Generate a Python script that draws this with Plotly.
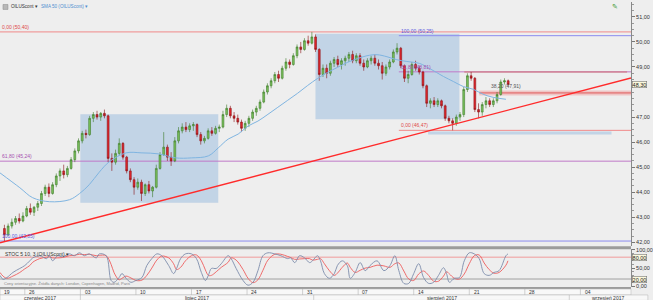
import numpy as np
import pandas as pd
import plotly.graph_objects as go

# ---------------- data ----------------
symbol = "OILUScont"
session_dates = pd.bdate_range("2017-06-22", "2017-08-24")
candles_per_day = [3] * 45 + [2]
origin = "2017-06-26"

opens = [42.55, 42.30, 42.65, 42.80, 42.95, 42.85, 43.05, 43.35, 43.20, 43.40, 43.55, 43.95,
         44.20, 43.95, 44.30, 44.65, 44.85, 44.70, 44.95, 45.30, 45.65, 46.05, 46.35, 46.30,
         46.95, 47.10, 47.00, 47.15, 47.05, 45.35, 45.20, 45.55, 45.95, 45.40, 44.85, 44.50,
         44.20, 44.40, 43.95, 44.30, 44.05, 44.20, 44.95, 45.50, 45.80, 45.40, 45.25, 46.05,
         46.45, 46.60, 46.50, 46.65, 46.70, 46.30, 46.05, 46.15, 46.45, 46.35, 46.55, 46.60,
         47.10, 47.35, 47.05, 46.95, 46.80, 46.55, 46.75, 46.95, 47.20, 47.35, 47.60, 48.00,
         48.25, 48.45, 48.70, 48.55, 48.95, 49.20, 49.10, 49.45, 49.80, 49.70, 50.05, 49.95,
         50.20, 49.70, 48.70, 48.95, 48.75, 49.15, 49.30, 49.10, 49.25, 49.35, 49.50, 49.25,
         49.45, 49.15, 49.00, 49.25, 49.35, 49.15, 49.05, 48.75, 49.00, 49.20, 49.60, 49.75,
         49.05, 48.55, 48.70, 49.10, 48.95, 48.80, 48.25, 47.55, 47.65, 47.50, 47.65, 47.45,
         46.95, 46.85, 46.75, 47.00, 47.10, 48.10, 48.65, 48.55, 47.30, 47.20, 47.50, 47.65,
         47.50, 47.65, 47.90, 48.40, 48.45]
highs = [42.70, 42.75, 42.95, 43.05, 43.15, 43.20, 43.45, 43.55, 43.45, 43.65, 44.05, 44.30,
         44.35, 44.40, 44.75, 44.95, 45.10, 45.05, 45.40, 45.75, 46.15, 46.45, 46.50, 47.05,
         47.20, 47.25, 47.20, 47.30, 47.10, 45.55, 45.70, 46.15, 46.00, 45.45, 44.95, 44.60,
         44.55, 44.50, 44.35, 44.45, 44.25, 45.10, 45.60, 46.40, 45.90, 45.60, 46.20, 46.60,
         46.75, 46.80, 46.75, 46.80, 46.75, 46.40, 46.25, 46.55, 46.60, 46.65, 46.70, 47.25,
         47.50, 47.45, 47.20, 47.10, 46.90, 46.85, 47.05, 47.30, 47.45, 47.70, 48.10, 48.35,
         48.55, 48.80, 48.85, 49.05, 49.35, 49.30, 49.55, 49.90, 50.00, 50.15, 50.25, 50.40,
         50.30, 49.75, 49.10, 49.10, 49.25, 49.40, 49.45, 49.35, 49.45, 49.60, 49.65, 49.55,
         49.55, 49.30, 49.35, 49.45, 49.50, 49.30, 49.20, 49.10, 49.30, 49.70, 49.95, 49.80,
         49.10, 48.85, 49.20, 49.25, 49.05, 48.85, 48.30, 47.75, 47.80, 47.75, 47.70, 47.50,
         47.05, 46.95, 47.10, 47.20, 48.20, 48.75, 48.80, 48.60, 47.55, 47.60, 47.80, 47.75,
         47.75, 48.00, 48.50, 48.55, 48.50]
lows = [42.05, 42.25, 42.55, 42.70, 42.75, 42.80, 43.00, 43.10, 43.05, 43.25, 43.45, 43.85,
        43.80, 43.90, 44.20, 44.45, 44.55, 44.60, 44.90, 45.20, 45.55, 45.95, 46.15, 46.25,
        46.80, 46.90, 46.85, 46.95, 45.20, 44.85, 45.10, 45.45, 45.30, 44.75, 44.40, 43.90,
        44.10, 43.65, 43.85, 43.95, 43.80, 44.15, 44.90, 45.45, 45.25, 45.05, 45.20, 45.95,
        46.35, 46.40, 46.40, 46.45, 46.20, 45.90, 45.95, 46.10, 46.25, 46.30, 46.40, 46.55,
        47.00, 46.95, 46.80, 46.70, 46.40, 46.45, 46.60, 46.85, 47.05, 47.25, 47.55, 47.90,
        48.15, 48.35, 48.40, 48.50, 48.85, 48.95, 49.05, 49.35, 49.55, 49.65, 49.85, 49.90,
        49.60, 48.45, 48.60, 48.55, 48.65, 49.00, 49.00, 48.90, 49.05, 49.20, 49.15, 49.15,
        49.05, 48.85, 48.95, 49.10, 49.05, 48.90, 48.50, 48.65, 48.90, 49.15, 49.50, 48.95,
        48.40, 48.35, 48.65, 48.85, 48.70, 48.15, 47.40, 47.35, 47.40, 47.40, 47.35, 46.85,
        46.75, 46.47, 46.65, 46.85, 47.00, 48.00, 48.45, 47.20, 46.95, 47.05, 47.35, 47.40,
        47.40, 47.55, 47.85, 48.30, 48.25]
closes = [42.30, 42.65, 42.80, 42.95, 42.85, 43.05, 43.35, 43.20, 43.40, 43.55, 43.95, 44.20,
          43.95, 44.30, 44.65, 44.85, 44.70, 44.95, 45.30, 45.65, 46.05, 46.35, 46.30, 46.95,
          47.10, 47.00, 47.15, 47.05, 45.35, 45.20, 45.55, 45.95, 45.40, 44.85, 44.50, 44.20,
          44.40, 43.95, 44.30, 44.05, 44.20, 44.95, 45.50, 45.80, 45.40, 45.25, 46.05, 46.45,
          46.60, 46.50, 46.65, 46.70, 46.30, 46.05, 46.15, 46.45, 46.35, 46.55, 46.60, 47.10,
          47.35, 47.05, 46.95, 46.80, 46.55, 46.75, 46.95, 47.20, 47.35, 47.60, 48.00, 48.25,
          48.45, 48.70, 48.55, 48.95, 49.20, 49.10, 49.45, 49.80, 49.70, 50.05, 49.95, 50.20,
          49.70, 48.70, 48.95, 48.75, 49.15, 49.30, 49.10, 49.25, 49.35, 49.50, 49.25, 49.45,
          49.15, 49.00, 49.25, 49.35, 49.15, 49.05, 48.75, 49.00, 49.20, 49.60, 49.75, 49.05,
          48.55, 48.70, 49.10, 48.95, 48.80, 48.25, 47.55, 47.65, 47.50, 47.65, 47.45, 46.95,
          46.85, 46.75, 47.00, 47.10, 48.10, 48.65, 48.55, 47.30, 47.20, 47.50, 47.65, 47.50,
          47.65, 47.90, 48.40, 48.45, 48.30]

# SMA 50 (time in trading days since 26 June)
sma_t = [-2.23, -0.45, 0.71, 2.23, 4.02, 4.91, 5.80, 6.70, 7.59, 9.11, 10.54, 12.05, 13.57, 15.00,
         16.52, 17.41, 18.30, 19.20, 20.09, 20.98, 21.88, 22.77, 23.66, 24.55, 25.45, 26.34, 27.23,
         28.13, 29.02, 29.91, 30.80, 31.70, 32.59, 33.48, 34.38, 35.54, 36.43, 37.68, 38.57, 39.46,
         40.36, 41.25, 42.14, 43.30]
sma_v = [44.77, 44.18, 43.78, 43.62, 43.70, 43.94, 44.30, 44.80, 45.21, 45.57, 45.57, 45.53, 45.37,
         45.37, 45.45, 45.77, 46.12, 46.32, 46.64, 46.84, 47.11, 47.39, 47.67, 47.95, 48.26, 48.54,
         48.78, 48.98, 49.18, 49.33, 49.45, 49.49, 49.41, 49.29, 49.22, 49.14, 48.94, 48.62, 48.42,
         48.22, 48.11, 47.91, 47.79, 47.71]

# Stochastic oscillator
stoch_t = [-2.23, -1.96, -1.61, -1.07, -0.45, 0, 0.45, 0.71, 1.34, 1.96,
           2.23, 2.5, 2.95, 3.39, 4.02, 4.46, 4.91, 5.36, 5.8, 6.43,
           6.7, 7.32, 7.77, 8.04, 8.48, 8.75, 9.11, 9.55, 10.0, 10.54,
           10.98, 11.43, 11.88, 12.32, 12.95, 13.39, 13.66, 14.02, 14.46, 15.0,
           15.45, 15.89, 16.25, 16.52, 16.79, 17.23, 17.68, 18.3, 18.57, 19.02,
           19.64, 20.09, 20.54, 20.98, 21.43, 21.88, 22.5, 23.04, 23.66, 23.93,
           24.29, 24.73, 25.18, 25.63, 25.89, 26.34, 26.61, 26.96, 27.41, 27.86,
           28.13, 28.57, 29.02, 29.29, 29.73, 30.18, 30.63, 31.07, 31.7, 32.32,
           32.86, 33.3, 33.66, 34.11, 34.55, 35.0, 35.45, 35.89, 36.34, 36.79,
           37.23, 37.68, 37.95, 38.21, 38.66, 39.11, 39.55, 40.0, 40.45, 40.89,
           41.34, 41.79, 42.23, 42.68, 43.3, 43.48]
stoch_k = [30, 19, 24, 38, 49, 57, 70, 78, 84, 76,
           84, 70, 84, 81, 89, 84, 92, 84, 89, 78,
           89, 84, 16, 11, 24, 35, 22, 11, 16, 24,
           57, 76, 89, 84, 57, 35, 49, 76, 89, 89,
           76, 38, 16, 30, 49, 49, 62, 84, 76, 49,
           16, 3, 11, 43, 84, 92, 89, 84, 76, 78,
           65, 84, 78, 65, 70, 84, 70, 35, 22, 35,
           57, 70, 57, 22, 38, 65, 43, 57, 70, 43,
           57, 84, 43, 8, 8, 35, 62, 24, 8, 11,
           30, 51, 35, 11, 22, 24, 70, 92, 89, 76,
           35, 30, 38, 43, 84, 89]
stoch_d = [38, 28, 22, 28, 38, 48, 57, 66, 76, 80,
           81, 78, 78, 79, 84, 85, 88, 87, 88, 84,
           85, 84, 60, 37, 18, 22, 28, 23, 16, 17,
           30, 50, 72, 83, 78, 62, 46, 52, 70, 84,
           86, 70, 45, 30, 30, 40, 52, 66, 78, 72,
           46, 22, 10, 18, 44, 72, 88, 88, 82, 79,
           74, 75, 76, 76, 72, 74, 76, 62, 43, 30,
           36, 52, 64, 52, 38, 44, 50, 52, 58, 56,
           52, 62, 64, 42, 20, 16, 34, 42, 30, 14,
           14, 28, 40, 34, 22, 20, 34, 62, 84, 86,
           64, 46, 36, 38, 58, 70]
stoch_levels = [80, 20]

price_ticks = [42, 43, 44, 45, 46, 47, 48, 49, 50, 51]
osc_ticks = [0, 50, 100]
current_price = 48.30

# Fibonacci retracements
fib1_top, fib1_bottom = 50.40, 42.05
fib1_levels = [0, 61.8, 100]
fib2_low, fib2_high = 46.47, 50.25
fib2_levels = [0, 61.8, 100]
fib2_start = 33.66
fib2_mid_level = 38.2

# trend line anchors (trading days since 26 June, price)
trend_t = [-2.232, 54.554]
trend_p = [41.98, 48.56]

# highlighted boxes
box_t0 = [5.0, 26.16]
box_t1 = [17.41, 39.11]
box_hi = [47.11, 50.33]
box_lo = [43.58, 46.91]

# extra horizontal markings
resist_t0, resist_t1, resist_p = 39.55, 54.2, 48.80
band_t0, band_lo, band_hi = 40.9, 47.86, 48.06
strip_t0, strip_t1, strip_lo, strip_hi = 36.3, 52.8, 46.30, 46.42

week_starts = ["2017-06-19", "2017-06-26", "2017-07-03", "2017-07-10", "2017-07-17", "2017-07-24",
               "2017-07-31", "2017-08-07", "2017-08-14", "2017-08-21", "2017-08-28", "2017-09-04"]
week_labels = ["19", "26", "03", "10", "17", "24", "31", "07", "14", "21", "28", "04"]
month_starts = ["2017-06-01", "2017-07-03", "2017-08-01", "2017-09-01"]
month_labels = ["czerwiec 2017", "lipiec 2017", "sierpień 2017", "wrzesień 2017"]

view_t0, view_t1 = -2.232, 54.554

# ---------------- helpers ----------------
def tday(d):
    return int(np.busday_count(origin, pd.Timestamp(d).strftime("%Y-%m-%d")))

def fmt(v):
    return f"{v:.2f}".replace(".", ",")

cx = []
for d, n in zip(session_dates, candles_per_day):
    base = tday(d)
    for k in range(n):
        cx.append(base + (k + 0.5) / 3.0)

W, H = 653, 300
MR, MB = 17, 13
PW, PHt = W - MR, H - MB  # 636, 287


def pyp(Y):
    return (PHt - Y) / PHt


def pxp(X):
    return X / PW


# main price scale: 51 at pixel 15, 25.22 px per unit
main_range = [51 - (246 - 15) / 25.22, 51 + 15 / 25.22]
osc_range = [-(287 - 286.3) / 0.3667, (286.3 - 249) / 0.3667]

BG = "#eeeeee"
FONT = "Liberation Sans"

fig = go.Figure()

fig.add_trace(go.Scatter(x=sma_t, y=sma_v, mode="lines", line=dict(color="#7fb4e0", width=1, shape="spline"),
                         xaxis="x", yaxis="y", hoverinfo="skip", showlegend=False))
fig.add_trace(go.Candlestick(x=cx, open=opens, high=highs, low=lows, close=closes,
                             increasing=dict(line=dict(color="#3c7a28", width=0.6), fillcolor="#7cc35c"),
                             decreasing=dict(line=dict(color="#8a1014", width=0.6), fillcolor="#e3262c"),
                             whiskerwidth=0, xaxis="x", yaxis="y", showlegend=False, hoverinfo="skip"))
fig.add_trace(go.Scatter(x=trend_t, y=trend_p, mode="lines", line=dict(color="#ff2b2b", width=1.4),
                         xaxis="x", yaxis="y", hoverinfo="skip", showlegend=False))

fig.add_trace(go.Scatter(x=stoch_t, y=stoch_d, mode="lines", line=dict(color="#ee5c5c", width=0.9, shape="spline"),
                         xaxis="x2", yaxis="y2", hoverinfo="skip", showlegend=False))
fig.add_trace(go.Scatter(x=stoch_t, y=stoch_k, mode="lines", line=dict(color="#7d8cab", width=0.9, shape="spline"),
                         xaxis="x2", yaxis="y2", hoverinfo="skip", showlegend=False))

shapes = []
annotations = []

# boxes
for t0, t1, hi, lo in zip(box_t0, box_t1, box_hi, box_lo):
    shapes.append(dict(type="rect", xref="x", yref="y", x0=t0, x1=t1, y0=lo, y1=hi,
                       fillcolor="rgba(150,185,222,0.5)", line=dict(width=0), layer="below"))

fib_colors = {0: "#f08a8a", 61.8: "#c07ac8", 100: "#8c8cf0"}
label_colors = {0: "#e04848", 61.8: "#a850b0", 100: "#5a5ae0"}

for lv in fib1_levels:
    p = fib1_top - lv / 100 * (fib1_top - fib1_bottom)
    shapes.append(dict(type="line", xref="x", yref="y", x0=view_t0, x1=view_t1, y0=p, y1=p,
                       line=dict(color=fib_colors[lv], width=1), layer="below"))
    annotations.append(dict(xref="x", yref="y", x=view_t0, y=p, xanchor="left", yanchor="bottom",
                            text=f"{fmt(lv)} ({fmt(p)})", showarrow=False,
                            font=dict(size=5, color=label_colors[lv], family=FONT)))

for lv in fib2_levels:
    p = fib2_low + lv / 100 * (fib2_high - fib2_low)
    shapes.append(dict(type="line", xref="x", yref="y", x0=fib2_start, x1=view_t1, y0=p, y1=p,
                       line=dict(color=fib_colors[lv], width=1), layer="below"))
    annotations.append(dict(xref="x", yref="y", x=fib2_start, y=p, xanchor="left", yanchor="bottom",
                            text=f"{fmt(lv)} ({fmt(p)})", showarrow=False,
                            font=dict(size=5, color=label_colors[lv], family=FONT)))

# resistance line, 38.2 band and strip
shapes.append(dict(type="line", xref="x", yref="y", x0=resist_t0, x1=resist_t1, y0=resist_p, y1=resist_p,
                   line=dict(color="#d07070", width=1), layer="below"))
shapes.append(dict(type="rect", xref="x", yref="y", x0=band_t0, x1=view_t1, y0=band_lo, y1=band_hi,
                   fillcolor="rgba(240,120,120,0.35)", line=dict(width=0), layer="below"))
mid_p = fib2_low + fib2_mid_level / 100 * (fib2_high - fib2_low)
shapes.append(dict(type="line", xref="x", yref="y", x0=band_t0, x1=view_t1, y0=mid_p + 0.05, y1=mid_p + 0.05,
                   line=dict(color="#e05a5a", width=1), layer="below"))
annotations.append(dict(xref="x", yref="y", x=band_t0 + 0.9, y=band_hi, xanchor="left", yanchor="bottom",
                        text=f"{fmt(fib2_mid_level)} ({fmt(mid_p)})", showarrow=False,
                        font=dict(size=5, color="#555555", family=FONT)))
shapes.append(dict(type="rect", xref="x", yref="y", x0=strip_t0, x1=strip_t1, y0=strip_lo, y1=strip_hi,
                   fillcolor="rgba(150,185,222,0.5)", line=dict(width=0), layer="below"))

# oscillator levels
shapes.append(dict(type="line", xref="x2", yref="y2", x0=view_t0, x1=view_t1, y0=stoch_levels[0], y1=stoch_levels[0],
                   line=dict(color="#f09a9a", width=1), layer="below"))
shapes.append(dict(type="line", xref="x2", yref="y2", x0=view_t0, x1=view_t1, y0=stoch_levels[1], y1=stoch_levels[1],
                   line=dict(color="#a0a0a0", width=1), layer="below"))

# panel separators
shapes.append(dict(type="rect", xref="paper", yref="paper", x0=0, x1=1, y0=pyp(249), y1=pyp(246),
                   fillcolor="#9c9c9c", line=dict(width=0)))
shapes.append(dict(type="rect", xref="paper", yref="paper", x0=0, x1=1, y0=pyp(289), y1=pyp(287),
                   fillcolor="#9c9c9c", line=dict(width=0)))
shapes.append(dict(type="rect", xref="paper", yref="paper", x0=0, x1=1, y0=pyp(295), y1=pyp(289),
                   fillcolor="#f8f8f8", line=dict(color="#b4b4b4", width=0.5)))
shapes.append(dict(type="rect", xref="paper", yref="paper", x0=0, x1=pxp(653), y0=pyp(300.5), y1=pyp(295),
                   fillcolor="#f8f8f8", line=dict(color="#b4b4b4", width=0.5)))

# week labels
for ws, lab in zip(week_starts, week_labels):
    t = tday(ws)
    if t > view_t1:
        continue
    if t > view_t0:
        shapes.append(dict(type="line", xref="x2", yref="paper", x0=t, x1=t, y0=pyp(295), y1=pyp(289),
                           line=dict(color="#b4b4b4", width=0.6)))
    annotations.append(dict(xref="x2", yref="paper", x=max(t, view_t0) + 0.2, y=pyp(292), xanchor="left",
                            yanchor="middle", text=lab, showarrow=False,
                            font=dict(size=5, color="#333333", family=FONT)))

# month labels
mt = [tday(m) for m in month_starts] + [view_t1 + 10]
for i, lab in enumerate(month_labels):
    a = max(mt[i], view_t0)
    b = min(mt[i + 1], view_t1 + 1.5)
    if i > 0:
        shapes.append(dict(type="line", xref="x2", yref="paper", x0=mt[i], x1=mt[i], y0=pyp(300), y1=pyp(295),
                           line=dict(color="#b4b4b4", width=0.6)))
    annotations.append(dict(xref="x2", yref="paper", x=(a + b) / 2, y=pyp(297.6), xanchor="center",
                            yanchor="middle", text=lab, showarrow=False,
                            font=dict(size=5, color="#333333", family=FONT)))

# header
shapes.append(dict(type="rect", xref="paper", yref="paper", x0=pxp(3), x1=pxp(8), y0=pyp(7.5), y1=pyp(2.5),
                   fillcolor="#b8b8b8", line=dict(color="#888888", width=0.5)))
annotations.append(dict(xref="paper", yref="paper", x=pxp(9.5), y=pyp(5), xanchor="left", yanchor="middle",
                        text=f"{symbol} ▾", showarrow=False, font=dict(size=4.6, color="#333333", family=FONT)))
annotations.append(dict(xref="paper", yref="paper", x=pxp(39), y=pyp(5), xanchor="left", yanchor="middle",
                        text=f"SMA 50 ({symbol}) ▾", showarrow=False,
                        font=dict(size=4.6, color="#4f8fd0", family=FONT)))
annotations.append(dict(xref="paper", yref="paper", x=pxp(620), y=pyp(5), xanchor="center", yanchor="middle",
                        text="✎", showarrow=False, font=dict(size=7, color="#3a9a30", family="DejaVu Sans")))
annotations.append(dict(xref="paper", yref="paper", x=pxp(3), y=pyp(254), xanchor="left", yanchor="middle",
                        text=f"STOC 5 10, 3 ({symbol}) ▾", showarrow=False,
                        font=dict(size=5, color="#333333", family=FONT)))
annotations.append(dict(xref="paper", yref="paper", x=pxp(2), y=pyp(283.5), xanchor="left", yanchor="middle",
                        text="Ceny orientacyjne. Źródła danych: London, Copenhagen, Madrid, Paris",
                        showarrow=False, font=dict(size=4, color="#888888", family=FONT)))

# axis value boxes
annotations.append(dict(xref="paper", yref="y", x=1, y=current_price, xanchor="left", yanchor="middle",
                        xshift=1, text=fmt(current_price), showarrow=False, bgcolor="#fbf8dc",
                        bordercolor="#777777", borderwidth=0.6, borderpad=0,
                        font=dict(size=5.5, color="#222222", family=FONT)))
for lvl in stoch_levels:
    annotations.append(dict(xref="paper", yref="y2", x=1, y=lvl, xanchor="left", yanchor="middle",
                            xshift=1, text=fmt(lvl), showarrow=False, bgcolor="#fbf8dc",
                            bordercolor="#777777", borderwidth=0.6, borderpad=0,
                            font=dict(size=5.5, color="#222222", family=FONT)))

shown_ticks = [t for t in price_ticks if abs(t - current_price) > 0.4]

axis_common = dict(showgrid=False, zeroline=False, range=[view_t0, view_t1], showticklabels=False,
                   ticks="", showline=False)

fig.update_layout(
    width=W, height=H,
    margin=dict(l=0, r=MR, t=0, b=MB, pad=0),
    paper_bgcolor=BG, plot_bgcolor=BG,
    separators=", ",
    showlegend=False,
    font=dict(family=FONT, size=6, color="#333333"),
    xaxis=dict(domain=[0, 1], anchor="y", rangeslider=dict(visible=False), **axis_common),
    xaxis2=dict(domain=[0, 1], anchor="y2", matches="x", **axis_common),
    yaxis=dict(domain=[pyp(246), 1], range=main_range, side="right", tickvals=shown_ticks,
               ticktext=[fmt(t) for t in shown_ticks], ticks="outside", ticklen=3, tickcolor="#777777",
               showline=True, linecolor="#888888", linewidth=1, showgrid=False, zeroline=False,
               tickfont=dict(size=5.5, color="#333333", family=FONT),
               minor=dict(ticks="outside", ticklen=2, dtick=0.25, tickcolor="#999999")),
    yaxis2=dict(domain=[0, pyp(249)], range=osc_range, side="right", tickvals=osc_ticks,
                ticktext=[fmt(t) for t in osc_ticks], ticks="outside", ticklen=3, tickcolor="#777777",
                showline=True, linecolor="#888888", linewidth=1, showgrid=False, zeroline=False,
                tickfont=dict(size=5.5, color="#333333", family=FONT),
                minor=dict(ticks="outside", ticklen=2, dtick=10, tickcolor="#999999")),
    shapes=shapes,
    annotations=annotations,
)

fig.write_html("out.html")
